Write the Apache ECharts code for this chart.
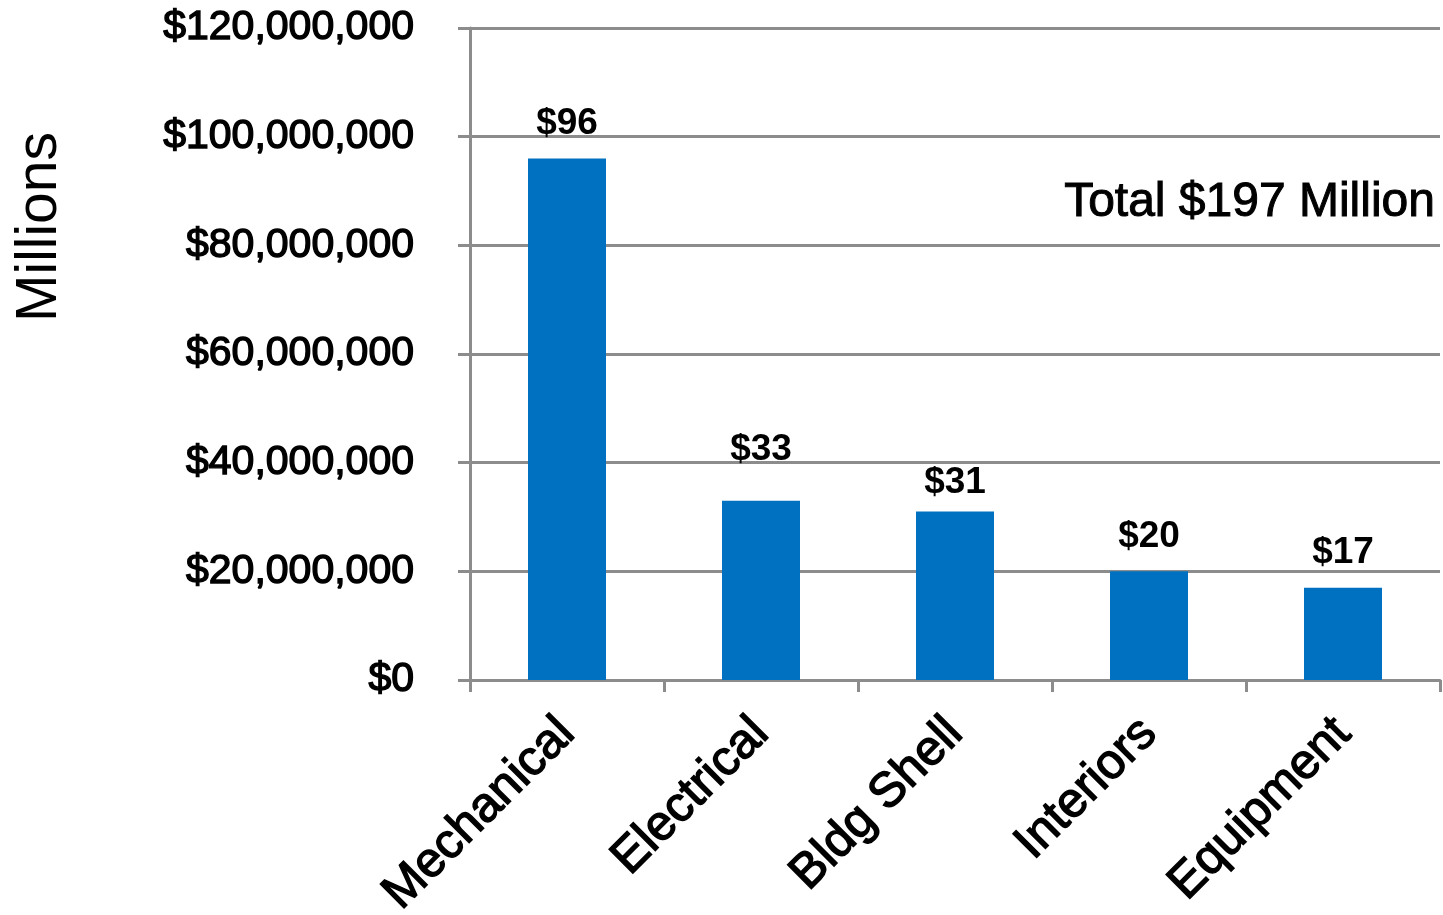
<!DOCTYPE html>
<html>
<head>
<meta charset="utf-8">
<script src="https://cdn.jsdelivr.net/npm/echarts@6/dist/echarts.min.js"></script>
<style>
  html, body { margin: 0; padding: 0; background: #fff; }
  #chart { width: 1443px; height: 915px; }
</style>
</head>
<body>
<div id="chart"></div>
<script>
// Construction cost by trade (US dollars)
const categories = ['Mechanical', 'Electrical', 'Bldg Shell', 'Interiors', 'Equipment'];
const costs = [96000000, 33000000, 31000000, 20000000, 17000000];
// extra lift for individual value labels (px)
const labelLift = [0, 16, -6, 0, 0];
const axisMax = 120000000;
const axisStep = 20000000;

const totalMillions = costs.reduce((a, b) => a + b, 0) / 1e6;
const FONT = '"Liberation Sans", Arial, sans-serif';
const GRID_GRAY = '#8c8c8c';

const chart = echarts.init(document.getElementById('chart'), null, { renderer: 'canvas' });

chart.setOption({
  backgroundColor: '#ffffff',
  animation: false,
  grid: { left: 470, right: 3, top: 28, bottom: 235, containLabel: false, outerBoundsMode: 'none' },
  title: {
    text: 'Total $' + totalMillions + ' Million',
    right: 2,
    top: 174,
    textStyle: {
      fontFamily: FONT, fontSize: 48, fontWeight: 'normal', color: '#000',
      textBorderColor: '#000', textBorderWidth: 1
    }
  },
  graphic: [{
    type: 'text',
    x: 40,
    y: 227,
    rotation: Math.PI / 2,
    style: {
      text: 'Millions',
      fontFamily: FONT,
      fontSize: 57,
      fill: '#000',
      align: 'center',
      verticalAlign: 'middle'
    }
  }],
  xAxis: {
    type: 'category',
    data: categories,
    axisLine: { show: true, lineStyle: { color: GRID_GRAY, width: 3 } },
    axisTick: { show: true, length: 12, alignWithLabel: false, lineStyle: { color: GRID_GRAY, width: 3 } },
    axisLabel: {
      rotate: 45,
      margin: 46,
      interval: 0,
      fontFamily: FONT,
      fontSize: 49,
      color: '#000',
      textBorderColor: '#000',
      textBorderWidth: 1.4
    },
    splitLine: { show: false }
  },
  yAxis: {
    type: 'value',
    min: 0,
    max: axisMax,
    interval: axisStep,
    axisLine: { show: true, lineStyle: { color: GRID_GRAY, width: 3 } },
    axisTick: { show: true, length: 12, lineStyle: { color: GRID_GRAY, width: 3 } },
    splitLine: { show: true, lineStyle: { color: GRID_GRAY, width: 3 } },
    axisLabel: {
      margin: 56,
      fontFamily: FONT,
      fontSize: 41,
      color: '#000',
      textBorderColor: '#000',
      textBorderWidth: 1.4,
      formatter: v => '$' + v.toLocaleString('en-US')
    }
  },
  series: [{
    type: 'bar',
    data: costs.map((v, i) => ({
      value: v,
      label: { distance: 16 + labelLift[i] }
    })),
    barWidth: 78,
    itemStyle: { color: '#0070C0' },
    label: {
      show: true,
      position: 'top',
      fontFamily: FONT,
      fontSize: 37,
      fontWeight: 'bold',
      color: '#000',
      formatter: p => '$' + Math.round(p.value / 1e6)
    }
  }]
});
</script>
</body>
</html>
